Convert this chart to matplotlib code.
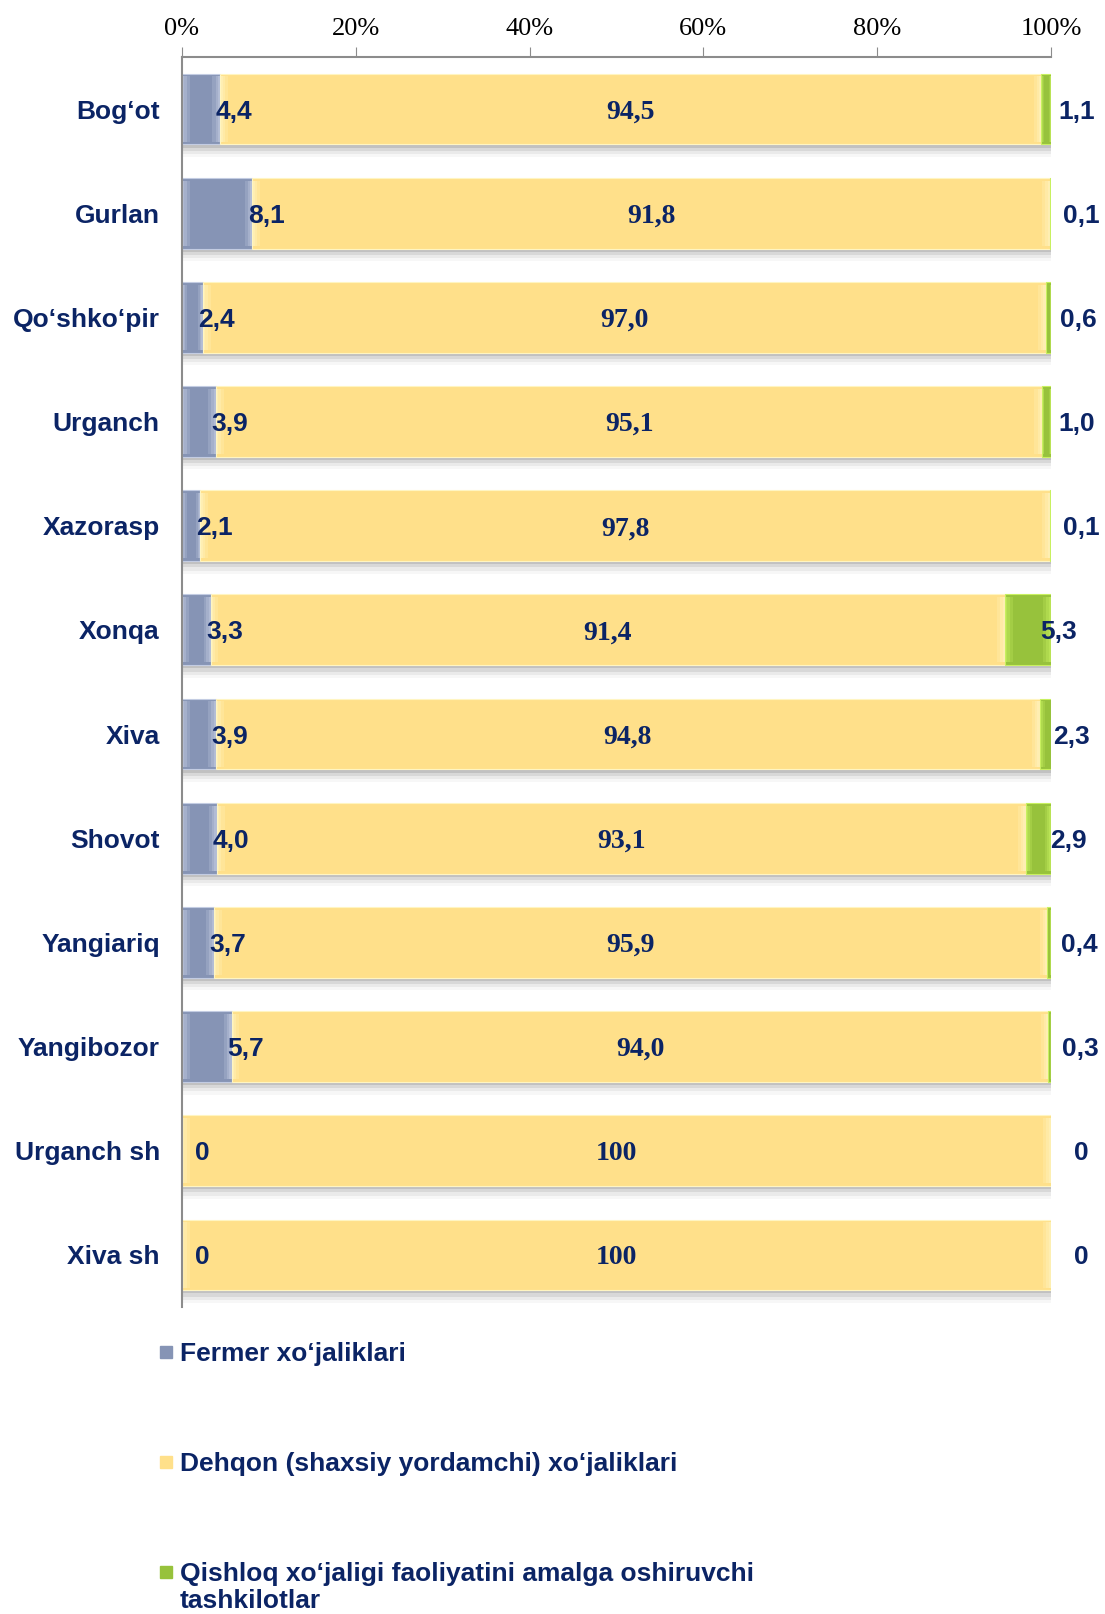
import matplotlib.pyplot as plt
from matplotlib.patches import Rectangle

regions = ['Bog‘ot', 'Gurlan', 'Qo‘shko‘pir', 'Urganch', 'Xazorasp', 'Xonqa',
           'Xiva', 'Shovot', 'Yangiariq', 'Yangibozor', 'Urganch sh', 'Xiva sh']
fermer = [4.4, 8.1, 2.4, 3.9, 2.1, 3.3, 3.9, 4.0, 3.7, 5.7, 0, 0]
dehqon = [94.5, 91.8, 97.0, 95.1, 97.8, 91.4, 94.8, 93.1, 95.9, 94.0, 100, 100]
qishloq = [1.1, 0.1, 0.6, 1.0, 0.1, 5.3, 2.3, 2.9, 0.4, 0.3, 0, 0]
series_names = ['Fermer xo‘jaliklari',
                'Dehqon (shaxsiy yordamchi) xo‘jaliklari',
                'Qishloq xo‘jaligi faoliyatini amalga oshiruvchi\ntashkilotlar']
xticks = [0, 20, 40, 60, 80, 100]

navy = '#0B2465'
c_fermer = '#8694B5'
c_dehqon = '#FFE08A'
c_qishloq = '#97C23C'
light = {c_fermer: '#C3CCE2', c_dehqon: '#FFF5C2', c_qishloq: '#C8F060'}


def fmt(v):
    if v == 0 or v == 100:
        return str(int(v))
    return f'{v:.1f}'.replace('.', ',')


fig = plt.figure(figsize=(11.05, 16.14), dpi=100)
ax = fig.add_axes([0.1647, 0.1902, 0.9511 - 0.1647, 0.9647 - 0.1902])

y = list(range(len(regions)))
h = 0.68

# soft shadow under each bar
for dy, a in [(0.03, 0.10), (0.06, 0.08), (0.09, 0.05), (0.12, 0.03)]:
    ax.barh([v + dy for v in y], [100.8] * len(y), height=h, color='black',
            alpha=a, linewidth=0, zorder=1)
    ax.barh(y, [100] * len(y), height=h, color='white', linewidth=0, zorder=1.5)

left2 = [a + b for a, b in zip(fermer, dehqon)]
segs = [(fermer, [0] * len(y), c_fermer),
        (dehqon, fermer, c_dehqon),
        (qishloq, left2, c_qishloq)]
for widths, lefts, c in segs:
    ax.barh(y, widths, left=lefts, height=h, color=c, edgecolor=light[c],
            linewidth=0.8, zorder=2)
    # bevel-like light gradient at both ends of each segment
    for frac, a in [(1.0, 0.25), (0.6, 0.35), (0.3, 0.45)]:
        sw = [min(0.9, w / 4) * frac for w in widths]
        ax.barh(y, sw, left=lefts, height=h * 0.92, color=light[c], alpha=a,
                linewidth=0, zorder=2.5)
        ax.barh(y, sw, left=[l + w - s for l, w, s in zip(lefts, widths, sw)],
                height=h * 0.92, color=light[c], alpha=a, linewidth=0, zorder=2.5)

for i in y:
    ax.text(max(fermer[i] - 0.5, 1.5), i, fmt(fermer[i]), ha='left', va='center_baseline',
            fontsize=19, fontweight='bold', family='Liberation Sans', color=navy, zorder=5)
    ax.text(fermer[i] + dehqon[i] / 2, i, fmt(dehqon[i]), ha='center', va='center_baseline',
            fontsize=20, fontweight='bold', family='Liberation Serif', color=navy, zorder=5)
    ax.text(103.5 - 0.5 * qishloq[i], i, fmt(qishloq[i]), ha='center', va='center_baseline',
            fontsize=19, fontweight='bold', family='Liberation Sans', color=navy, zorder=5,
            clip_on=False)

ax.set_xlim(0, 100)
ax.set_ylim(len(regions) - 0.5, -0.5)
ax.set_yticks(y)
ax.set_yticklabels(regions, fontsize=19, fontweight='bold', family='Liberation Sans',
                   color=navy)
ax.set_xticks(xticks)
ax.set_xticklabels([f'{t}%' for t in xticks], fontsize=19, family='Liberation Serif')
ax.xaxis.tick_top()
ax.tick_params(axis='x', direction='out', length=7, color='#8C8C8C', pad=5)
ax.tick_params(axis='y', length=0, pad=16)
for s in ['right', 'bottom']:
    ax.spines[s].set_visible(False)
for s in ['top', 'left']:
    ax.spines[s].set_color('#8C8C8C')
    ax.spines[s].set_linewidth(1.5)

# legend
W, H = 1105, 1614
leg_y = [1352, 1462, 1572]
cols = [c_fermer, c_dehqon, c_qishloq]
for yy, name, c in zip(leg_y, series_names, cols):
    fig.patches.append(Rectangle((160 / W, 1 - (yy + 6) / H), 12 / W, 12 / H,
                                 transform=fig.transFigure, color=c, figure=fig))
    fig.text(180 / W, 1 - (yy - 10) / H, name, ha='left', va='top', fontsize=19,
             fontweight='bold', family='Liberation Sans', color=navy, linespacing=1.15)

fig.savefig('out.png', dpi=100)
